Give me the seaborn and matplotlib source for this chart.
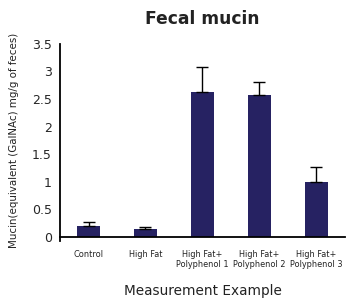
import matplotlib
matplotlib.use("Agg")
import matplotlib.pyplot as plt
import seaborn as sns
import pandas as pd
import numpy as np

categories = ["Control", "High Fat", "High Fat+\nPolyphenol 1", "High Fat+\nPolyphenol 2", "High Fat+\nPolyphenol 3"]
values = [0.20, 0.145, 2.62, 2.58, 1.00]
err_upper = [0.07, 0.045, 0.46, 0.23, 0.26]
yticks = [0, 0.5, 1, 1.5, 2, 2.5, 3, 3.5]
ytick_labels = ["0", "0.5", "1", "1.5", "2", "2.5", "3", "3.5"]

sns.set_style("white")
plt.rcParams['font.family'] = ['DejaVu Sans']

color = "#262262"
fig = plt.figure(figsize=(3.47, 3.07), dpi=100)
ax = fig.add_axes([0.173, 0.228, 0.821, 0.629])

df = pd.DataFrame({"cat": categories, "val": values})
sns.barplot(data=df, x="cat", y="val", color=color, saturation=1, width=0.4,
            errorbar=None, ax=ax)
for p in ax.patches:
    p.set_edgecolor("none")

xs = np.arange(len(categories))
ax.errorbar(xs, values, yerr=[np.zeros(len(values)), err_upper], fmt="none",
            ecolor="black", elinewidth=1.0, capsize=4, capthick=1.0)

ax.set_xlim(-0.5, 4.5)
ax.set_ylim(0, 3.5)
ax.set_yticks(yticks)
ax.set_yticklabels(ytick_labels, fontsize=9)
ax.set_xticks(xs)
ax.set_xticklabels(categories, fontsize=5.9, color="#222222")
ax.set_xticks([0.5, 1.5, 2.5, 3.5], minor=True)
ax.tick_params(axis="x", which="major", length=0, pad=9)
ax.tick_params(axis="x", which="minor", length=4, width=1, color="black", direction="out")
ax.tick_params(axis="y", which="major", length=4, width=1, color="black", direction="out", pad=2)

for s in ["top", "right"]:
    ax.spines[s].set_visible(False)
for s in ["left", "bottom"]:
    ax.spines[s].set_color("black")
    ax.spines[s].set_linewidth(1.3)
ax.spines["left"].set_bounds(-0.08, 3.5)

ax.set_xlabel("Measurement Example", fontsize=9.8, labelpad=11, color="#222222")
ax.set_ylabel("Mucin(equivalent (GalNAc) mg/g of feces)", fontsize=7.4, labelpad=9, color="#222222")
ax.set_title("Fecal mucin", fontsize=12.3, fontweight="bold", pad=14, color="#222222")

fig.savefig("out.png", dpi=100)
